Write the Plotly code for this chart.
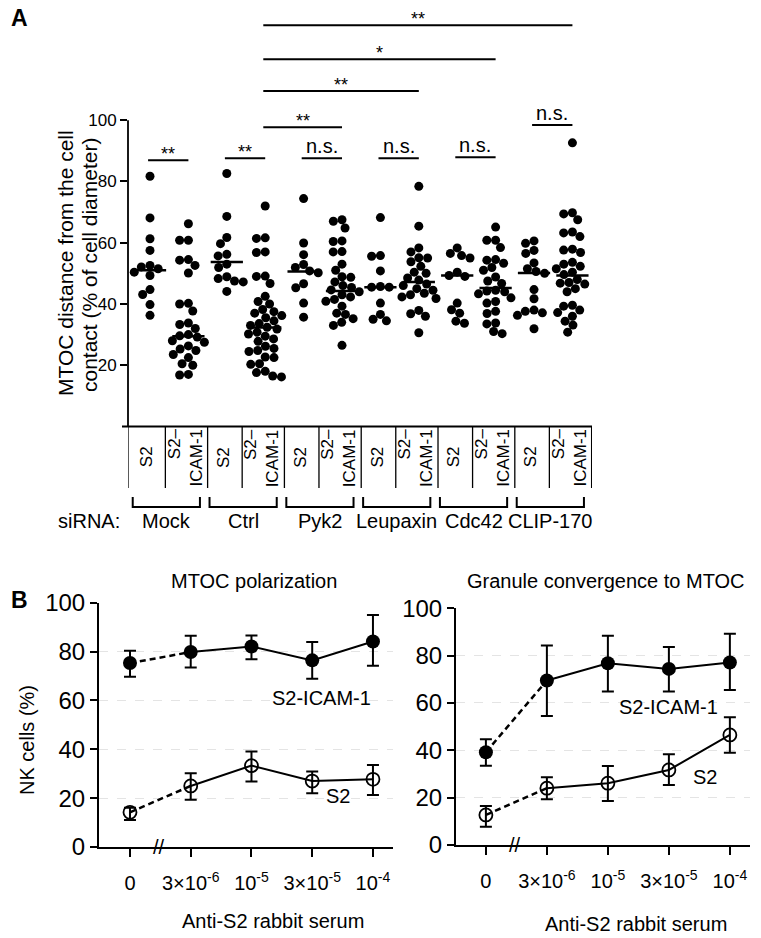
import math
import plotly.graph_objects as go

W, H = 761, 938
FONT = "Liberation Sans, Arial, sans-serif"

# ---------------- Panel A data ----------------
sirna = ["Mock", "Ctrl", "Pyk2", "Leupaxin", "Cdc42", "CLIP-170"]
target_labels = ["S2", "S2–<br>ICAM-1"]
y_title_lines = ["MTOC distance from the cell", "contact (% of cell diameter)"]

mock_s2 = [81.7, 68.1, 61.3, 57.5, 52.6, 52.1, 51.5, 50.4, 49.3, 44.7, 43.1, 39.8, 36.3]
mock_icam = [66.2, 60.8, 60.8, 54.5, 54.3, 52.6, 50.1, 40.2, 40.0, 37.7, 33.8, 33.3, 32.0, 30.0,
             29.6, 29.2, 28.0, 27.5, 26.3, 25.3, 24.8, 23.5, 22.5, 20.5, 20.0, 17.0, 16.8]
ctrl_s2 = [82.6, 68.6, 61.7, 59.7, 56.2, 55.7, 53.0, 51.9, 48.9, 48.3, 47.5, 47.2, 44.1]
ctrl_icam = [72.0, 61.6, 61.4, 57.0, 56.8, 49.1, 49.0, 46.7, 42.5, 40.8, 40.0, 38.2, 37.5, 37.0,
             36.2, 35.5, 34.5, 33.6, 33.0, 32.4, 31.8, 30.8, 30.2, 29.5, 28.6, 27.8, 26.2, 25.5,
             24.8, 24.5, 22.7, 22.5, 20.5, 20.3, 18.0, 17.6, 16.5, 16.2]
pyk2_s2 = [74.4, 59.9, 56.1, 52.9, 51.9, 50.8, 50.2, 46.6, 45.3, 40.3, 35.7]
pyk2_icam = [67.5, 67.0, 64.8, 60.6, 60.4, 57.1, 57.0, 53.0, 51.0, 48.9, 48.7, 47.2, 46.0, 45.4,
             44.6, 44.0, 43.0, 42.3, 41.5, 40.9, 39.3, 37.0, 36.6, 35.2, 34.0, 33.0, 26.5]
leup_s2 = [68.2, 55.8, 55.6, 50.8, 45.7, 45.5, 45.5, 40.3, 36.6, 35.0, 34.5]
leup_icam = [78.4, 65.4, 58.3, 57.0, 55.1, 55.0, 53.8, 52.3, 50.4, 50.0, 48.5, 47.8, 46.5, 46.0,
             45.0, 44.5, 43.5, 43.0, 42.3, 41.8, 37.9, 36.8, 36.0, 30.6]
cdc42_s2 = [58.3, 56.5, 55.8, 55.0, 50.4, 49.3, 49.0, 40.3, 38.1, 37.0, 34.4, 33.7]
cdc42_icam = [65.1, 60.8, 60.8, 58.4, 54.5, 54.3, 53.3, 51.9, 51.0, 48.8, 47.5, 46.7, 44.5, 44.2,
              44.0, 43.3, 42.0, 40.8, 40.3, 37.6, 36.9, 33.8, 33.5, 31.0, 30.3]
clip_s2 = [60.6, 59.8, 57.5, 56.5, 53.4, 51.5, 50.6, 50.0, 44.7, 41.7, 38.0, 37.6, 37.1, 36.3, 31.9]
clip_icam = [92.6, 69.8, 69.4, 67.5, 63.5, 63.2, 62.0, 57.9, 57.6, 56.8, 53.6, 53.0, 52.3, 51.5,
             50.4, 49.6, 48.0, 47.0, 46.8, 46.5, 45.0, 44.0, 39.6, 39.3, 38.0, 37.2, 36.0, 34.4,
             33.1, 30.8]
group_values = [mock_s2, mock_icam, ctrl_s2, ctrl_icam, pyk2_s2, pyk2_icam,
                leup_s2, leup_icam, cdc42_s2, cdc42_icam, clip_s2, clip_icam]
group_means = [51.0, 29.5, 53.7, 32.3, 50.6, 44.2, 45.5, 47.2, 49.3, 45.2, 50.1, 49.3]

# comparisons: (group i, group j, bar level, label)
comparisons = [
    (0, 1, 86.9, "**"), (2, 3, 87.6, "**"), (4, 5, 87.6, "n.s."), (6, 7, 87.6, "n.s."),
    (8, 9, 87.9, "n.s."), (10, 11, 98.4, "n.s."),
    (3, 5, 97.7, "**"), (3, 7, 109.5, "**"), (3, 9, 119.9, "*"), (3, 11, 131.0, "**"),
]

# ---------------- Panel B data ----------------
conc_labels = ["0", "3×10<sup>-6</sup>", "10<sup>-5</sup>", "3×10<sup>-5</sup>", "10<sup>-4</sup>"]
mtoc_icam = [75.3, 79.8, 82.1, 76.4, 84.1]
mtoc_icam_hi = [80.3, 86.5, 86.6, 83.9, 95.0]
mtoc_icam_lo = [69.7, 73.5, 76.9, 68.9, 74.2]
mtoc_s2 = [14.2, 25.0, 33.3, 27.0, 27.7]
mtoc_s2_hi = [16.1, 30.2, 39.1, 30.9, 33.6]
mtoc_s2_lo = [11.1, 19.3, 26.8, 22.0, 21.3]
gran_icam = [39.2, 69.5, 76.8, 74.4, 77.1]
gran_icam_hi = [44.7, 84.3, 88.4, 83.6, 89.2]
gran_icam_lo = [33.5, 54.5, 64.8, 64.8, 65.5]
gran_s2 = [12.7, 24.0, 26.1, 31.7, 46.5]
gran_s2_hi = [16.5, 28.6, 33.4, 38.3, 54.0]
gran_s2_lo = [7.7, 19.3, 18.6, 25.4, 39.0]

# ---------------- helpers ----------------
PX_PER_X = 38.4   # px per category unit (panel A)
PX_PER_Y = 3.06   # px per value unit (panel A)
DOT = 8.8


def swarm(vals):
    placed = []
    res = [0.0] * len(vals)
    order = sorted(range(len(vals)), key=lambda k: -vals[k])
    for k in order:
        y = vals[k] * PX_PER_Y
        cands = [0.0]
        ints = []
        for px_, py_ in placed:
            dy = abs(py_ - y)
            if dy < DOT:
                dx = math.sqrt(DOT * DOT - dy * dy)
                ints.append((px_ - dx, px_ + dx))
                cands += [px_ - dx, px_ + dx]
        cands.sort(key=lambda c: (abs(c), c))
        chosen = 0.0
        for c in cands:
            if all(not (a + 1e-6 < c < b - 1e-6) for a, b in ints):
                chosen = c
                break
        placed.append((chosen, y))
        res[k] = chosen / PX_PER_X
    return res


def py(pix):
    return 1 - pix / H


def px(pix):
    return pix / W


def txt(text, x, y, size, xref="paper", yref="paper", angle=0, **kw):
    d = dict(x=x, y=y, xref=xref, yref=yref, text=text, showarrow=False, textangle=angle,
             xanchor="center", yanchor="middle",
             font=dict(size=size, color="black", family=FONT))
    d.update(kw)
    return d


fig = go.Figure()

# ---------------- Panel A traces ----------------
for gi, vals in enumerate(group_values):
    offs = swarm(vals)
    fig.add_trace(go.Scatter(
        x=[gi + o for o in offs], y=vals, mode="markers",
        marker=dict(size=9, color="black", line=dict(width=0)),
        xaxis="x", yaxis="y", showlegend=False, hoverinfo="y"))

mx, my = [], []
for gi, m in enumerate(group_means):
    mx += [gi - 0.42, gi + 0.42, None]
    my += [m, m, None]
fig.add_trace(go.Scatter(x=mx, y=my, mode="lines", line=dict(color="black", width=2.5),
                         xaxis="x", yaxis="y", showlegend=False, hoverinfo="skip"))

shapes = []
annotations = []

# y axis line of panel A (0..100)
shapes.append(dict(type="line", xref="x domain", yref="y", x0=0, x1=0, y0=0, y1=100,
                   line=dict(color="black", width=1.8)))
# x axis line of panel A, slightly extended to the left
shapes.append(dict(type="line", xref="paper", yref="paper", x0=px(122), x1=px(592),
                   y0=py(426.5), y1=py(426.5), line=dict(color="black", width=1.8)))

# significance bars
for i, j, lev, lab in comparisons:
    shapes.append(dict(type="line", xref="x", yref="y", x0=i - 0.05, x1=j, y0=lev, y1=lev,
                       line=dict(color="black", width=2)))
    star = "*" in lab
    annotations.append(txt(lab, (i - 0.05 + j) / 2, lev, 18 if star else 20, xref="x", yref="y",
                           yanchor="bottom", yshift=-6 if star else -1))

# table below panel A
tbl_top, tbl_bot = 426.5, 488
sep_x = [-0.573]
for k in range(6):
    sep_x += [2 * k + 0.4, 2 * k + 1.5]
for sx in sep_x:
    shapes.append(dict(type="line", xref="x", yref="paper", x0=sx, x1=sx,
                       y0=py(tbl_top), y1=py(tbl_bot), line=dict(color="black", width=1.3)))
for k, name in enumerate(sirna):
    annotations.append(txt(target_labels[0], 2 * k - 0.1, py(457), 17, xref="x", angle=-90))
    annotations.append(txt(target_labels[1], 2 * k + 0.9, py(458), 17, xref="x", angle=-90,
                           align="right"))
    x0, x1 = 2 * k - 0.45, 2 * k + 1.3
    shapes.append(dict(type="path", xref="x", yref="paper",
                       path=f"M {x0},{py(497)} L {x0},{py(507)} L {x1},{py(507)} L {x1},{py(497)}",
                       line=dict(color="black", width=2)))
    annotations.append(txt(name, (x0 + x1) / 2, py(521), 20, xref="x"))
annotations.append(txt("siRNA:", px(122), py(521), 20, xanchor="right"))

# y title panel A (two lines)
annotations.append(txt(y_title_lines[0], px(65), py(263), 21, angle=-90))
annotations.append(txt(y_title_lines[1], px(89), py(265), 21, angle=-90))

# ---------------- Panel B traces ----------------
def add_series(vals, hi, lo, symbol, xa, ya):
    idx = list(range(len(vals)))
    fig.add_trace(go.Scatter(x=idx[:2], y=vals[:2], mode="lines",
                             line=dict(color="black", width=2.5, dash="6px,4px"),
                             xaxis=xa, yaxis=ya, showlegend=False, hoverinfo="skip"))
    fig.add_trace(go.Scatter(x=idx[1:], y=vals[1:], mode="lines",
                             line=dict(color="black", width=2),
                             xaxis=xa, yaxis=ya, showlegend=False, hoverinfo="skip"))
    filled = symbol == "circle"
    fig.add_trace(go.Scatter(
        x=idx, y=vals, mode="markers",
        marker=dict(symbol=symbol, size=14 if filled else 13, color="black",
                    line=dict(color="black", width=0 if filled else 1.8)),
        error_y=dict(type="data", symmetric=False,
                     array=[h - v for h, v in zip(hi, vals)],
                     arrayminus=[v - l for l, v in zip(lo, vals)],
                     thickness=2, width=6, color="black"),
        xaxis=xa, yaxis=ya, showlegend=False))


add_series(mtoc_icam, mtoc_icam_hi, mtoc_icam_lo, "circle", "x2", "y2")
add_series(mtoc_s2, mtoc_s2_hi, mtoc_s2_lo, "circle-open", "x2", "y2")
add_series(gran_icam, gran_icam_hi, gran_icam_lo, "circle", "x3", "y3")
add_series(gran_s2, gran_s2_hi, gran_s2_lo, "circle-open", "x3", "y3")

# B annotations
for xa, ya in (("x2", "y2"), ("x3", "y3")):
    annotations.append(txt("//", 0.47, 0, 20, xref=xa, yref=ya))
annotations += [
    txt("MTOC polarization", px(254), py(581), 20),
    txt("Granule convergence to MTOC", px(606), py(581), 20),
    txt("Anti-S2 rabbit serum", px(273), py(921), 20),
    txt("Anti-S2 rabbit serum", px(636), py(924), 20),
    txt("NK cells (%)", px(27), py(740), 20, angle=-90),
    txt("S2-ICAM-1", px(321), py(698), 20),
    txt("S2", px(338), py(796), 20),
    txt("S2-ICAM-1", px(668), py(707), 20),
    txt("S2", px(705), py(777), 20),
    txt("<b>A</b>", px(19), py(18), 23),
    txt("<b>B</b>", px(19), py(600), 23),
]

yb_common = dict(range=[0, 100], tickvals=[0, 20, 40, 60, 80, 100], ticks="outside",
                 ticklen=7, tickwidth=2, tickcolor="black", showline=True, linewidth=2,
                 linecolor="black", showgrid=True, gridcolor="#e4e4e4", griddash="dash",
                 gridwidth=1, zeroline=False, automargin=False,
                 tickfont=dict(size=24, color="black", family=FONT))
xb_common = dict(tickvals=[0, 1, 2, 3, 4], ticktext=conc_labels, ticks="outside", ticklen=8,
                 tickwidth=2, tickcolor="black", showline=True, linewidth=2, linecolor="black",
                 showgrid=False, zeroline=False, ticklabelstandoff=9, automargin=False,
                 tickfont=dict(size=20, color="black", family=FONT))

fig.update_layout(
    width=W, height=H, margin=dict(l=0, r=0, t=0, b=0, pad=0, autoexpand=False),
    paper_bgcolor="white", plot_bgcolor="white",
    font=dict(family=FONT, color="black"),
    showlegend=False,
    xaxis=dict(domain=[px(128), px(592)], range=[-0.573, 11.51], showline=False,
               showticklabels=False, ticks="", showgrid=False,
               zeroline=False, anchor="y", automargin=False),
    yaxis=dict(domain=[py(426.5), py(13)], range=[0, 135], tickvals=[20, 40, 60, 80, 100],
               ticks="outside", ticklen=7, tickwidth=1.5, tickcolor="black", showline=False,
               showgrid=False, zeroline=False, anchor="x", automargin=False,
               tickfont=dict(size=17, color="black", family=FONT)),
    xaxis2=dict(domain=[px(99), px(393)], range=[-0.51, 4.33], anchor="y2", **xb_common),
    yaxis2=dict(domain=[py(847), py(602.7)], anchor="x2", **yb_common),
    xaxis3=dict(domain=[px(456), px(750)], range=[-0.49, 4.33], anchor="y3", **xb_common),
    yaxis3=dict(domain=[py(845), py(608.3)], anchor="x3", **yb_common),
    shapes=shapes,
    annotations=annotations,
)

fig.write_html("out.html", config={"displayModeBar": False},
               post_script="document.body.style.margin='0';")
